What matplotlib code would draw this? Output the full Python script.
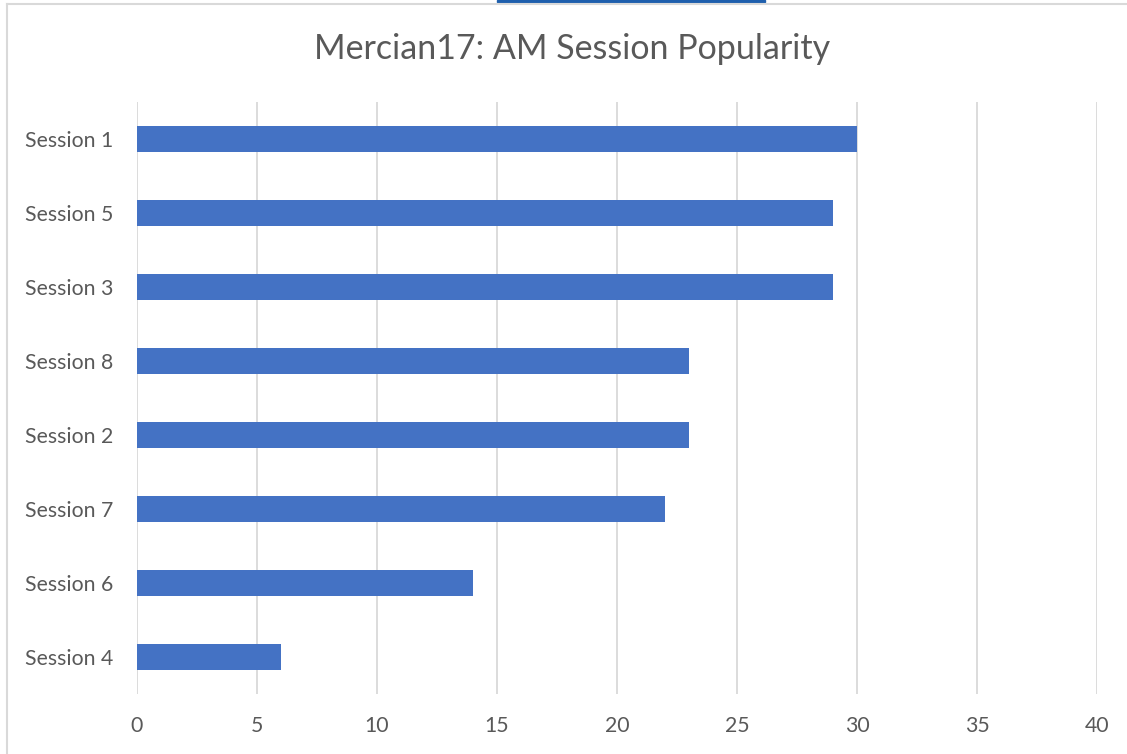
import matplotlib
matplotlib.use("Agg")
from matplotlib import pyplot as plt
from matplotlib.lines import Line2D
from matplotlib.patches import Rectangle

# data, top to bottom as shown
sessions = ["Session 1", "Session 5", "Session 3", "Session 8",
            "Session 2", "Session 7", "Session 6", "Session 4"]
attendees = [30, 29, 29, 23, 23, 22, 14, 6]
xticks = [0, 5, 10, 15, 20, 25, 30, 35, 40]

plt.rcParams['font.family'] = ['Lato', 'DejaVu Sans']
grey = '#595959'

fig = plt.figure(figsize=(11.27, 7.54), dpi=100)
ax = fig.add_axes([137/1127, 1-694/754, 960/1127, 592/754])

ypos = list(range(len(sessions)))
ax.barh(ypos, attendees, height=0.35, color='#4472C4', zorder=3)
ax.set_ylim(len(sessions)-0.5, -0.5)
ax.set_xlim(0, 40)
ax.set_xticks(xticks)
ax.set_yticks(ypos)
ax.set_yticklabels(sessions)
ax.tick_params(axis='both', length=0, colors=grey, labelsize=15.3)
ax.tick_params(axis='x', pad=16)
ax.tick_params(axis='y', pad=17)
ax.grid(axis='x', color='#d9d9d9', linewidth=1.3, zorder=0)
for s in ax.spines.values():
    s.set_visible(False)

fig.text(572/1127, 1-49/754, "Mercian17: AM Session Popularity",
         ha='center', va='center', fontsize=24.5, color=grey)

# outer chart frame bits from the screenshot
fig.add_artist(Line2D([6.5/1127, 1], [1-3.5/754, 1-3.5/754],
                      color='#d9d9d9', linewidth=1.5))
fig.add_artist(Line2D([6.5/1127, 6.5/1127], [0, 1-3.5/754],
                      color='#d9d9d9', linewidth=1.5))
fig.add_artist(Rectangle((497/1127, 1-2/754), 268/1127, 2/754,
                         color='#1f5fad', transform=fig.transFigure))

fig.savefig("out.png", dpi=100)
